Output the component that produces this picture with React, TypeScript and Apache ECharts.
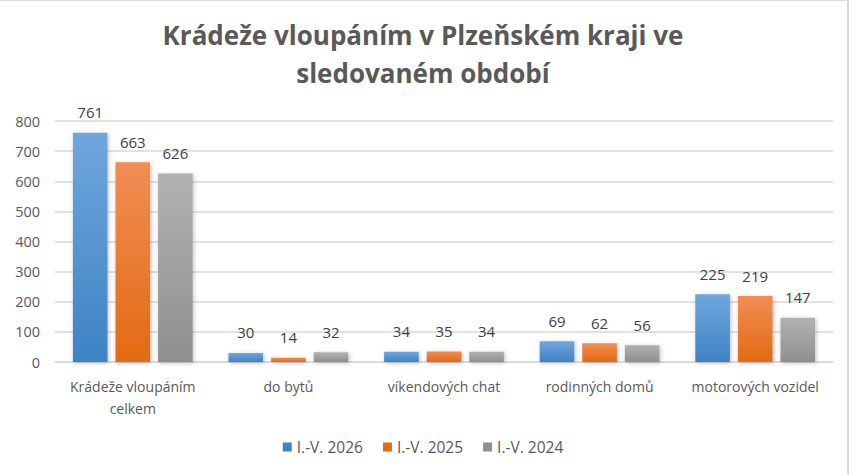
import React, { useEffect, useRef } from "react";
import * as echarts from "echarts";

const categories = ["Krádeže vloupáním\ncelkem", "do bytů", "víkendových chat", "rodinných domů", "motorových vozidel"];
const seriesNames = ["I.-V. 2026", "I.-V. 2025", "I.-V. 2024"];
const values2026 = [761, 30, 34, 69, 225];
const values2025 = [663, 14, 35, 62, 219];
const values2024 = [626, 32, 34, 56, 147];
const yTicks = { min: 0, max: 800, interval: 100 };

const grad = (top: string, bottom: string) =>
  new echarts.graphic.LinearGradient(0, 0, 0, 1, [
    { offset: 0, color: top },
    { offset: 1, color: bottom },
  ]);

export default function App() {
  const ref = useRef<HTMLDivElement>(null);
  useEffect(() => {
    const chart = echarts.init(ref.current!, undefined, { renderer: "svg" });
    const font = "Open Sans, Noto Sans, sans-serif";
    const colors = [
      ["#70a6dd", "#3e83c4"],
      ["#f18d55", "#e36a13"],
      ["#b1b1b1", "#8f8f8f"],
    ];
    const data = [values2026, values2025, values2024];
    chart.setOption({
      animation: false,
      backgroundColor: "#ffffff",
      title: {
        text: "Krádeže vloupáním v Plzeňském kraji ve\nsledovaném období",
        left: "center",
        top: 9,
        textStyle: {
          fontFamily: font,
          fontSize: 26,
          fontWeight: "bold",
          color: "#595959",
          lineHeight: 38,
        },
      },
      legend: {
        bottom: 15,
        left: "center",
        itemWidth: 9,
        itemHeight: 9,
        itemGap: 20,
        icon: "rect",
        textStyle: { fontFamily: font, fontSize: 15.5, color: "#595959" },
        data: seriesNames.map((n, i) => ({ name: n, itemStyle: { color: colors[i][1] } })),
      },
      grid: { left: 55, right: 13, top: 119, bottom: 113, containLabel: false },
      xAxis: {
        type: "category",
        data: categories,
        axisLine: { lineStyle: { color: "#d9d9d9", width: 1.5 } },
        axisTick: { show: false },
        axisLabel: {
          fontFamily: font,
          fontSize: 14,
          color: "#595959",
          margin: 13,
          lineHeight: 22,
          interval: 0,
        },
      },
      yAxis: {
        type: "value",
        min: yTicks.min,
        max: yTicks.max,
        interval: yTicks.interval,
        axisLine: { show: false },
        axisTick: { show: false },
        splitLine: { lineStyle: { color: "#d9d9d9", width: 1.5 } },
        axisLabel: { fontFamily: font, fontSize: 14.5, color: "#595959", margin: 15 },
      },
      series: data.map((d, i) => ({
        name: seriesNames[i],
        type: "bar",
        data: d,
        barGap: "23%",
        barCategoryGap: "23%",
        itemStyle: {
          color: grad(colors[i][0], colors[i][1]),
          shadowColor: "rgba(0,0,0,0.25)",
          shadowBlur: 4,
          shadowOffsetX: 1,
          shadowOffsetY: 1,
        },
        label: {
          show: true,
          position: "top",
          distance: 13,
          fontFamily: font,
          fontSize: 15,
          color: "#404040",
        },
      })),
    });
    return () => chart.dispose();
  }, []);
  return (
    <div
      style={{
        position: "fixed",
        left: 0,
        top: 0,
        width: 853,
        height: 475,
        background: "#fff",
      }}
    >
      <div
        style={{
          position: "absolute",
          left: 0,
          top: 0,
          width: 849,
          height: 475,
          borderTop: "1px solid #d9d9d9",
          borderRight: "2px solid #d9d9d9",
          boxSizing: "border-box",
        }}
      />
      <div ref={ref} style={{ position: "absolute", left: 0, top: 2, width: 846, height: 473 }} />
    </div>
  );
}
